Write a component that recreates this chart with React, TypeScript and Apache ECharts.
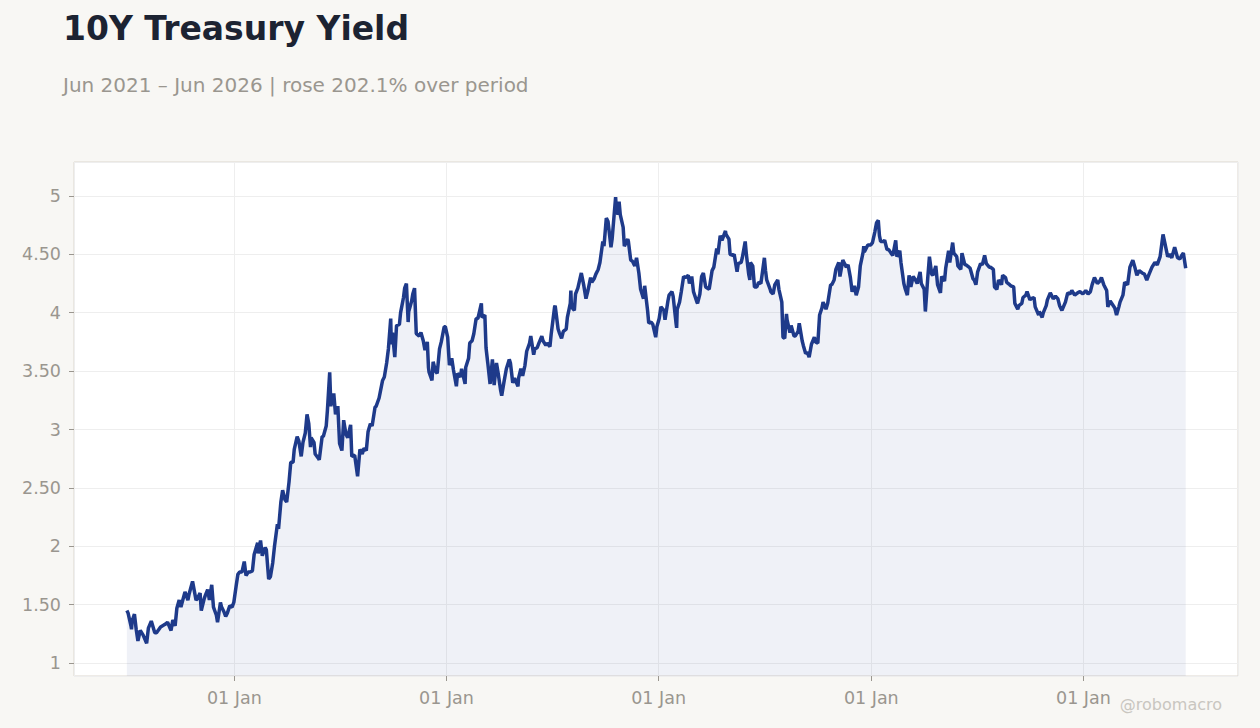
import { useEffect, useRef } from 'react';
import * as echarts from 'echarts';

// 10Y yield (date, %)
const y2021: [string, number][] = [
    ['2021-06-30', 1.45], ['2021-07-02', 1.43], ['2021-07-07', 1.32], ['2021-07-08', 1.29], ['2021-07-09', 1.36],
    ['2021-07-13', 1.42], ['2021-07-16', 1.29], ['2021-07-19', 1.19], ['2021-07-23', 1.28], ['2021-07-28', 1.24],
    ['2021-08-03', 1.17], ['2021-08-06', 1.30], ['2021-08-11', 1.36], ['2021-08-17', 1.26], ['2021-08-20', 1.26],
    ['2021-08-27', 1.31], ['2021-09-03', 1.33], ['2021-09-08', 1.35], ['2021-09-14', 1.28], ['2021-09-17', 1.37],
    ['2021-09-21', 1.32], ['2021-09-24', 1.47], ['2021-09-28', 1.54], ['2021-10-01', 1.48], ['2021-10-08', 1.61],
    ['2021-10-13', 1.54], ['2021-10-15', 1.59], ['2021-10-21', 1.70], ['2021-10-27', 1.54], ['2021-10-29', 1.55],
    ['2021-11-03', 1.60], ['2021-11-05', 1.45], ['2021-11-10', 1.55], ['2021-11-12', 1.58], ['2021-11-16', 1.63],
    ['2021-11-19', 1.54], ['2021-11-23', 1.67], ['2021-11-26', 1.48], ['2021-12-01', 1.41], ['2021-12-03', 1.35],
    ['2021-12-08', 1.52], ['2021-12-10', 1.48], ['2021-12-14', 1.44], ['2021-12-17', 1.40], ['2021-12-20', 1.43],
    ['2021-12-24', 1.49], ['2021-12-28', 1.48], ['2021-12-31', 1.52],
];

const y2022: [string, number][] = [
    ['2022-01-04', 1.66], ['2022-01-07', 1.76], ['2022-01-10', 1.78], ['2022-01-14', 1.78], ['2022-01-18', 1.87],
    ['2022-01-21', 1.75], ['2022-01-25', 1.78], ['2022-01-28', 1.78], ['2022-02-01', 1.79], ['2022-02-04', 1.93],
    ['2022-02-10', 2.03], ['2022-02-11', 1.94], ['2022-02-15', 2.05], ['2022-02-18', 1.92], ['2022-02-23', 1.99],
    ['2022-02-25', 1.97], ['2022-03-01', 1.72], ['2022-03-04', 1.74], ['2022-03-08', 1.86], ['2022-03-11', 2.00],
    ['2022-03-16', 2.19], ['2022-03-18', 2.15], ['2022-03-22', 2.38], ['2022-03-25', 2.48], ['2022-03-29', 2.40],
    ['2022-04-01', 2.38], ['2022-04-05', 2.55], ['2022-04-08', 2.72], ['2022-04-12', 2.72], ['2022-04-14', 2.83],
    ['2022-04-19', 2.94], ['2022-04-22', 2.90], ['2022-04-26', 2.77], ['2022-04-29', 2.89], ['2022-05-03', 2.97],
    ['2022-05-06', 3.13], ['2022-05-09', 3.05], ['2022-05-12', 2.85], ['2022-05-13', 2.93], ['2022-05-18', 2.89],
    ['2022-05-20', 2.79], ['2022-05-26', 2.75], ['2022-05-27', 2.74], ['2022-06-01', 2.94], ['2022-06-03', 2.94],
    ['2022-06-08', 3.03], ['2022-06-10', 3.16], ['2022-06-14', 3.49], ['2022-06-16', 3.20], ['2022-06-17', 3.23],
    ['2022-06-21', 3.31], ['2022-06-24', 3.13], ['2022-06-28', 3.20], ['2022-07-01', 2.88], ['2022-07-05', 2.82],
    ['2022-07-08', 3.08], ['2022-07-12', 2.96], ['2022-07-15', 2.93], ['2022-07-20', 3.04], ['2022-07-22', 2.77],
    ['2022-07-27', 2.78], ['2022-08-01', 2.60], ['2022-08-05', 2.83], ['2022-08-09', 2.79], ['2022-08-12', 2.84],
    ['2022-08-16', 2.82], ['2022-08-19', 2.98], ['2022-08-23', 3.05], ['2022-08-26', 3.03], ['2022-08-31', 3.19],
    ['2022-09-02', 3.20], ['2022-09-07', 3.27], ['2022-09-09', 3.32], ['2022-09-13', 3.42], ['2022-09-16', 3.45],
    ['2022-09-20', 3.57], ['2022-09-23', 3.69], ['2022-09-27', 3.95], ['2022-09-28', 3.73], ['2022-09-30', 3.83],
    ['2022-10-04', 3.62], ['2022-10-07', 3.89], ['2022-10-12', 3.90], ['2022-10-14', 4.00], ['2022-10-19', 4.13],
    ['2022-10-21', 4.21], ['2022-10-24', 4.25], ['2022-10-27', 3.92], ['2022-10-28', 4.01], ['2022-11-02', 4.10],
    ['2022-11-04', 4.16], ['2022-11-07', 4.21], ['2022-11-10', 3.82], ['2022-11-15', 3.80], ['2022-11-18', 3.83],
    ['2022-11-22', 3.76], ['2022-11-25', 3.68], ['2022-11-29', 3.75], ['2022-12-01', 3.53], ['2022-12-02', 3.49],
    ['2022-12-07', 3.42], ['2022-12-09', 3.58], ['2022-12-13', 3.50], ['2022-12-16', 3.48], ['2022-12-20', 3.69],
    ['2022-12-23', 3.75], ['2022-12-28', 3.88], ['2022-12-30', 3.88],
];

const y2023: [string, number][] = [
    ['2023-01-03', 3.79], ['2023-01-06', 3.55], ['2023-01-10', 3.61], ['2023-01-13', 3.51], ['2023-01-18', 3.37],
    ['2023-01-20', 3.48], ['2023-01-25', 3.45], ['2023-01-27', 3.52], ['2023-02-02', 3.39], ['2023-02-03', 3.53],
    ['2023-02-08', 3.61], ['2023-02-10', 3.74], ['2023-02-14', 3.76], ['2023-02-17', 3.82], ['2023-02-21', 3.95],
    ['2023-02-24', 3.95], ['2023-03-02', 4.08], ['2023-03-03', 3.96], ['2023-03-08', 3.98], ['2023-03-10', 3.70],
    ['2023-03-13', 3.57], ['2023-03-17', 3.39], ['2023-03-21', 3.60], ['2023-03-24', 3.38], ['2023-03-28', 3.57],
    ['2023-03-31', 3.48], ['2023-04-04', 3.34], ['2023-04-06', 3.29], ['2023-04-10', 3.41], ['2023-04-14', 3.52],
    ['2023-04-19', 3.60], ['2023-04-21', 3.57], ['2023-04-25', 3.40], ['2023-04-28', 3.44], ['2023-05-04', 3.37],
    ['2023-05-05', 3.44], ['2023-05-09', 3.52], ['2023-05-12', 3.46], ['2023-05-16', 3.55], ['2023-05-19', 3.67],
    ['2023-05-24', 3.74], ['2023-05-26', 3.80], ['2023-05-31', 3.64], ['2023-06-02', 3.69], ['2023-06-06', 3.70],
    ['2023-06-09', 3.74], ['2023-06-14', 3.80], ['2023-06-16', 3.76], ['2023-06-21', 3.72], ['2023-06-23', 3.74],
    ['2023-06-28', 3.71], ['2023-06-30', 3.81], ['2023-07-06', 4.05], ['2023-07-07', 4.06], ['2023-07-12', 3.86],
    ['2023-07-14', 3.83], ['2023-07-18', 3.78], ['2023-07-21', 3.84], ['2023-07-26', 3.86], ['2023-07-28', 3.96],
    ['2023-08-02', 4.08], ['2023-08-03', 4.19], ['2023-08-04', 4.05], ['2023-08-09', 4.02], ['2023-08-11', 4.16],
    ['2023-08-15', 4.21], ['2023-08-21', 4.34], ['2023-08-25', 4.24], ['2023-08-29', 4.12], ['2023-09-01', 4.18],
    ['2023-09-06', 4.30], ['2023-09-08', 4.26], ['2023-09-12', 4.29], ['2023-09-15', 4.33], ['2023-09-19', 4.37],
    ['2023-09-22', 4.43], ['2023-09-27', 4.61], ['2023-09-29', 4.57], ['2023-10-03', 4.81], ['2023-10-06', 4.78],
    ['2023-10-11', 4.56], ['2023-10-13', 4.63], ['2023-10-19', 4.99], ['2023-10-20', 4.91], ['2023-10-23', 4.84],
    ['2023-10-25', 4.95], ['2023-10-27', 4.84], ['2023-11-01', 4.73], ['2023-11-03', 4.57], ['2023-11-09', 4.63],
    ['2023-11-10', 4.61], ['2023-11-14', 4.45], ['2023-11-17', 4.44], ['2023-11-21', 4.40], ['2023-11-24', 4.47],
    ['2023-11-28', 4.34], ['2023-12-01', 4.20], ['2023-12-06', 4.12], ['2023-12-08', 4.23], ['2023-12-13', 4.02],
    ['2023-12-15', 3.91], ['2023-12-19', 3.92], ['2023-12-22', 3.90], ['2023-12-27', 3.79], ['2023-12-29', 3.88],
];

const y2024: [string, number][] = [
    ['2024-01-02', 3.95], ['2024-01-05', 4.05], ['2024-01-10', 4.02], ['2024-01-12', 3.94], ['2024-01-17', 4.10],
    ['2024-01-19', 4.15], ['2024-01-24', 4.18], ['2024-01-26', 4.14], ['2024-01-31', 3.91], ['2024-02-01', 3.87],
    ['2024-02-02', 4.03], ['2024-02-06', 4.09], ['2024-02-09', 4.18], ['2024-02-13', 4.31], ['2024-02-16', 4.30],
    ['2024-02-21', 4.32], ['2024-02-23', 4.25], ['2024-02-27', 4.31], ['2024-03-01', 4.18], ['2024-03-07', 4.09],
    ['2024-03-08', 4.08], ['2024-03-12', 4.16], ['2024-03-15', 4.31], ['2024-03-18', 4.34], ['2024-03-22', 4.22],
    ['2024-03-28', 4.20], ['2024-04-02', 4.36], ['2024-04-05', 4.39], ['2024-04-10', 4.55], ['2024-04-12', 4.50],
    ['2024-04-16', 4.66], ['2024-04-19', 4.62], ['2024-04-25', 4.70], ['2024-04-26', 4.67], ['2024-05-01', 4.63],
    ['2024-05-03', 4.50], ['2024-05-08', 4.49], ['2024-05-10', 4.50], ['2024-05-15', 4.35], ['2024-05-17', 4.42],
    ['2024-05-22', 4.43], ['2024-05-24', 4.47], ['2024-05-29', 4.61], ['2024-05-31', 4.50], ['2024-06-04', 4.33],
    ['2024-06-06', 4.28], ['2024-06-07', 4.43], ['2024-06-11', 4.40], ['2024-06-14', 4.22], ['2024-06-18', 4.22],
    ['2024-06-21', 4.26], ['2024-06-25', 4.25], ['2024-06-28', 4.36], ['2024-07-01', 4.47], ['2024-07-03', 4.36],
    ['2024-07-05', 4.28], ['2024-07-11', 4.20], ['2024-07-12', 4.18], ['2024-07-16', 4.16], ['2024-07-19', 4.24],
    ['2024-07-24', 4.28], ['2024-07-26', 4.20], ['2024-07-31', 4.09], ['2024-08-02', 3.79], ['2024-08-05', 3.78],
    ['2024-08-08', 3.99], ['2024-08-09', 3.94], ['2024-08-14', 3.83], ['2024-08-16', 3.89], ['2024-08-21', 3.80],
    ['2024-08-23', 3.80], ['2024-08-28', 3.84], ['2024-08-30', 3.91], ['2024-09-04', 3.76], ['2024-09-06', 3.72],
    ['2024-09-10', 3.65], ['2024-09-13', 3.66], ['2024-09-16', 3.62], ['2024-09-20', 3.73], ['2024-09-25', 3.79],
    ['2024-09-27', 3.75], ['2024-10-01', 3.74], ['2024-10-04', 3.98], ['2024-10-08', 4.04], ['2024-10-10', 4.09],
    ['2024-10-15', 4.03], ['2024-10-18', 4.08], ['2024-10-23', 4.24], ['2024-10-25', 4.24], ['2024-10-29', 4.28],
    ['2024-11-01', 4.37], ['2024-11-06', 4.43], ['2024-11-08', 4.31], ['2024-11-13', 4.45], ['2024-11-15', 4.43],
    ['2024-11-19', 4.39], ['2024-11-22', 4.41], ['2024-11-26', 4.30], ['2024-11-29', 4.18], ['2024-12-03', 4.23],
    ['2024-12-06', 4.15], ['2024-12-10', 4.22], ['2024-12-13', 4.40], ['2024-12-18', 4.52], ['2024-12-19', 4.57],
    ['2024-12-20', 4.52], ['2024-12-26', 4.58], ['2024-12-31', 4.58],
];

const y2025: [string, number][] = [
    ['2025-01-03', 4.60], ['2025-01-07', 4.69], ['2025-01-10', 4.77], ['2025-01-13', 4.79], ['2025-01-15', 4.66],
    ['2025-01-17', 4.61], ['2025-01-22', 4.61], ['2025-01-24', 4.62], ['2025-01-28', 4.54], ['2025-01-31', 4.54],
    ['2025-02-04', 4.51], ['2025-02-07', 4.49], ['2025-02-12', 4.62], ['2025-02-14', 4.48], ['2025-02-19', 4.53],
    ['2025-02-21', 4.43], ['2025-02-26', 4.25], ['2025-02-28', 4.21], ['2025-03-04', 4.15], ['2025-03-07', 4.32],
    ['2025-03-10', 4.22], ['2025-03-14', 4.31], ['2025-03-18', 4.28], ['2025-03-21', 4.25], ['2025-03-26', 4.35],
    ['2025-03-28', 4.25], ['2025-04-02', 4.20], ['2025-04-04', 4.01], ['2025-04-08', 4.29], ['2025-04-11', 4.48],
    ['2025-04-15', 4.33], ['2025-04-17', 4.32], ['2025-04-22', 4.40], ['2025-04-25', 4.24], ['2025-04-30', 4.17],
    ['2025-05-02', 4.31], ['2025-05-07', 4.27], ['2025-05-09', 4.38], ['2025-05-14', 4.53], ['2025-05-16', 4.43],
    ['2025-05-21', 4.60], ['2025-05-23', 4.51], ['2025-05-28', 4.48], ['2025-05-30', 4.40], ['2025-06-04', 4.37],
    ['2025-06-06', 4.51], ['2025-06-11', 4.41], ['2025-06-13', 4.41], ['2025-06-18', 4.39], ['2025-06-20', 4.38],
    ['2025-06-25', 4.29], ['2025-06-27', 4.28], ['2025-06-30', 4.24], ['2025-07-03', 4.35], ['2025-07-08', 4.42],
    ['2025-07-11', 4.41], ['2025-07-15', 4.49], ['2025-07-18', 4.42], ['2025-07-23', 4.39], ['2025-07-25', 4.39],
    ['2025-07-30', 4.37], ['2025-08-01', 4.22], ['2025-08-05', 4.20], ['2025-08-08', 4.28], ['2025-08-13', 4.24],
    ['2025-08-15', 4.32], ['2025-08-20', 4.30], ['2025-08-22', 4.26], ['2025-08-27', 4.24], ['2025-08-29', 4.23],
    ['2025-09-03', 4.22], ['2025-09-05', 4.08], ['2025-09-10', 4.03], ['2025-09-12', 4.06], ['2025-09-17', 4.08],
    ['2025-09-19', 4.13], ['2025-09-24', 4.15], ['2025-09-26', 4.18], ['2025-10-01', 4.11], ['2025-10-03', 4.12],
    ['2025-10-08', 4.13], ['2025-10-10', 4.05], ['2025-10-16', 3.98], ['2025-10-17', 4.01], ['2025-10-22', 3.96],
    ['2025-10-24', 4.00], ['2025-10-29', 4.06], ['2025-10-31', 4.11], ['2025-11-05', 4.17], ['2025-11-10', 4.12],
    ['2025-11-14', 4.14], ['2025-11-18', 4.12], ['2025-11-21', 4.06], ['2025-11-25', 4.02], ['2025-12-01', 4.09],
    ['2025-12-05', 4.17], ['2025-12-09', 4.16], ['2025-12-12', 4.19], ['2025-12-17', 4.15], ['2025-12-22', 4.17],
    ['2025-12-26', 4.18], ['2025-12-31', 4.16],
];

const y2026: [string, number][] = [
    ['2026-01-05', 4.19], ['2026-01-09', 4.16], ['2026-01-13', 4.18], ['2026-01-16', 4.24], ['2026-01-20', 4.30],
    ['2026-01-25', 4.25], ['2026-01-29', 4.27], ['2026-02-01', 4.30], ['2026-02-05', 4.24], ['2026-02-10', 4.19],
    ['2026-02-12', 4.05], ['2026-02-16', 4.10], ['2026-02-20', 4.07], ['2026-02-24', 4.04], ['2026-02-27', 3.98],
    ['2026-03-03', 4.05], ['2026-03-05', 4.09], ['2026-03-10', 4.15], ['2026-03-13', 4.26], ['2026-03-18', 4.24],
    ['2026-03-22', 4.39], ['2026-03-27', 4.45], ['2026-03-31', 4.38], ['2026-04-03', 4.32], ['2026-04-07', 4.36],
    ['2026-04-12', 4.34], ['2026-04-16', 4.33], ['2026-04-20', 4.28], ['2026-04-24', 4.33], ['2026-04-29', 4.39],
    ['2026-05-04', 4.43], ['2026-05-08', 4.41], ['2026-05-13', 4.48], ['2026-05-18', 4.67], ['2026-05-21', 4.60],
    ['2026-05-26', 4.48], ['2026-05-29', 4.50], ['2026-06-02', 4.47], ['2026-06-07', 4.56], ['2026-06-12', 4.47],
    ['2026-06-16', 4.46], ['2026-06-19', 4.49], ['2026-06-22', 4.51], ['2026-06-26', 4.38],
];

const yieldData = [...y2021, ...y2022, ...y2023, ...y2024, ...y2025, ...y2026];

const TITLE = '10Y Treasury Yield';
const SUBTITLE = 'Jun 2021 – Jun 2026 | rose 202.1% over period';
const FONT = '"DejaVu Sans", sans-serif';

export default function App() {
    const chartRef = useRef<HTMLDivElement>(null);

    useEffect(() => {
        if (!chartRef.current) return;
        const chart = echarts.init(chartRef.current, null, { renderer: 'svg' });

        const option = {
            animation: false,
            backgroundColor: '#f8f7f4',
            textStyle: { fontFamily: FONT },
            title: [
                {
                    text: TITLE,
                    left: 63,
                    top: 12,
                    padding: 0,
                    textStyle: { fontSize: 33, fontWeight: 'bold', color: '#1c2332', fontFamily: FONT },
                },
                {
                    text: SUBTITLE,
                    left: 63,
                    top: 75,
                    padding: 0,
                    textStyle: { fontSize: 20, fontWeight: 'normal', color: '#9a968f', fontFamily: FONT },
                },
            ],
            graphic: [
                {
                    type: 'text',
                    right: 38,
                    top: 696,
                    style: { text: '@robomacro', fill: '#c9c6c0', fontSize: 16, fontFamily: FONT },
                },
            ],
            grid: {
                left: 74,
                right: 22,
                top: 162,
                bottom: 52,
                show: true,
                backgroundColor: '#ffffff',
                borderColor: '#dcd7cf',
                borderWidth: 1,
            },
            xAxis: {
                type: 'time',
                min: '2021-03-31',
                max: '2026-09-24',
                minInterval: 365 * 24 * 3600 * 1000,
                splitNumber: 5,
                axisLine: { show: false },
                axisTick: { show: true, length: 5, lineStyle: { color: '#9a968f' } },
                axisLabel: {
                    color: '#9a968f',
                    fontSize: 17.5,
                    margin: 13,
                    fontFamily: FONT,
                    formatter: (val: number) => {
                        const d = new Date(val);
                        return d.getMonth() === 0 && d.getDate() === 1 ? '01 Jan' : '';
                    },
                },
                splitLine: { show: true, lineStyle: { color: '#eeeeee', width: 1 } },
            },
            yAxis: {
                type: 'value',
                min: 0.89,
                max: 5.29,
                splitNumber: 8,
                axisLine: { show: false },
                axisTick: { show: true, length: 5, lineStyle: { color: '#9a968f' } },
                axisLabel: {
                    color: '#9a968f',
                    fontSize: 17.5,
                    margin: 13,
                    fontFamily: FONT,
                    showMinLabel: false,
                    showMaxLabel: false,
                    formatter: (v: number) => (Number.isInteger(v) ? String(v) : v.toFixed(2)),
                },
                splitLine: { show: true, lineStyle: { color: '#eeeeee', width: 1 } },
            },
            series: [
                {
                    type: 'line',
                    data: yieldData,
                    showSymbol: false,
                    symbol: 'none',
                    lineStyle: { color: '#1e3a8a', width: 3.5 },
                    itemStyle: { color: '#1e3a8a' },
                    areaStyle: { color: 'rgba(30, 58, 138, 0.1)', origin: 'start' },
                },
            ],
        };

        chart.setOption(option);

        return () => {
            chart.dispose();
        };
    }, []);

    return (
        <div
            ref={chartRef}
            style={{ position: 'fixed', left: 0, top: 0, width: '1260px', height: '728px' }}
        />
    );
}
